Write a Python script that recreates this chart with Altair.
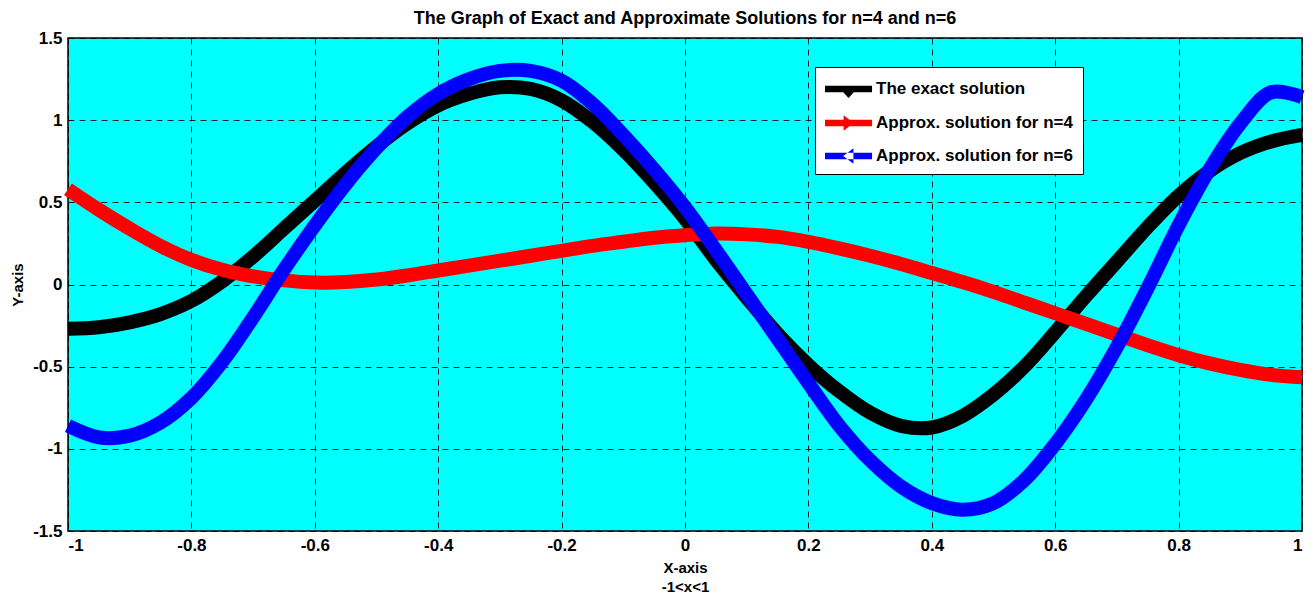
import altair as alt
import pandas as pd

# ---------------- data ----------------
x_vals = [-1.00, -0.95, -0.90, -0.85, -0.80, -0.75, -0.70, -0.65, -0.60, -0.55,
          -0.50, -0.45, -0.40, -0.35, -0.30, -0.25, -0.20, -0.15, -0.10, -0.05,
          0.00, 0.05, 0.10, 0.15, 0.20, 0.25, 0.30, 0.35, 0.40, 0.45,
          0.50, 0.55, 0.60, 0.65, 0.70, 0.75, 0.80, 0.85, 0.90, 0.95, 1.00]

exact = [-0.27, -0.26, -0.23, -0.18, -0.10, 0.02, 0.17, 0.34, 0.51, 0.68,
         0.84, 0.98, 1.09, 1.16, 1.20, 1.19, 1.12, 0.99, 0.82, 0.62,
         0.40, 0.15, -0.08, -0.30, -0.49, -0.65, -0.78, -0.86, -0.87, -0.80,
         -0.67, -0.50, -0.29, -0.07, 0.14, 0.35, 0.54, 0.69, 0.80, 0.87, 0.91]

approx4 = [0.58, 0.455, 0.34, 0.235, 0.15, 0.09, 0.05, 0.025, 0.012, 0.015,
           0.03, 0.055, 0.085, 0.115, 0.145, 0.175, 0.205, 0.235, 0.26, 0.285,
           0.30, 0.31, 0.305, 0.29, 0.26, 0.22, 0.175, 0.125, 0.07, 0.015,
           -0.045, -0.11, -0.175, -0.24, -0.305, -0.37, -0.43, -0.48, -0.52, -0.55, -0.565]

approx6 = [-0.86, -0.93, -0.92, -0.84, -0.69, -0.47, -0.20, 0.09, 0.36, 0.61,
           0.83, 1.02, 1.16, 1.25, 1.30, 1.30, 1.24, 1.10, 0.91, 0.70,
           0.47, 0.21, -0.06, -0.33, -0.60, -0.86, -1.07, -1.23, -1.33, -1.37,
           -1.33, -1.19, -0.97, -0.70, -0.38, -0.02, 0.36, 0.70, 0.98, 1.17, 1.14]

series_names = ["The exact solution", "Approx. solution for n=4", "Approx. solution for n=6"]
series_colors = ["#000000", "#FF0000", "#0000FF"]

x_ticks = [-1, -0.8, -0.6, -0.4, -0.2, 0, 0.2, 0.4, 0.6, 0.8, 1]
y_ticks = [-1.5, -1, -0.5, 0, 0.5, 1, 1.5]

title_text = "The Graph of Exact and Approximate Solutions for n=4 and n=6"

# legend glyphs: thick line with a triangle marker (down / right / left)
bar = "M-1,-0.28L2.92,-0.28L2.92,0.28L-1,0.28Z "
legend_paths = [
    bar + "M0.46,0.2L1.46,0.2L0.96,0.75Z",
    bar + "M0.55,-0.65L1.4,0L0.55,0.65Z",
    bar + "M1.37,-0.65L0.52,0L1.37,0.65Z",
]

rows = []
for name, ys in zip(series_names, [exact, approx4, approx6]):
    for xv, yv in zip(x_vals, ys):
        rows.append({"series": name, "x": xv, "y": yv})
df = pd.DataFrame(rows)

FONT = "Liberation Sans"

x_enc = alt.X("x:Q",
              scale=alt.Scale(domain=[-1, 1], nice=False, zero=False),
              axis=alt.Axis(values=x_ticks, labelExpr="datum.value + ''",
                            title=["X-axis", "-1<x<1"], titleFontSize=15,
                            titleLineHeight=19, titlePadding=7,
                            labelPadding=6))
y_enc = alt.Y("y:Q",
              scale=alt.Scale(domain=[-1.5, 1.5], nice=False, zero=False),
              axis=alt.Axis(values=y_ticks, labelExpr="datum.value + ''",
                            title="Y-axis", titleFontSize=15, titlePadding=7,
                            labelPadding=6))

legend_props = dict(
    orient="none", legendX=747, legendY=29, title=None,
    padding=10, fillColor="white", strokeColor="black", cornerRadius=0,
    symbolSize=576, symbolOpacity=1, symbolStrokeWidth=0,
    labelFont=FONT, labelFontSize=17, labelFontWeight="bold",
    labelOffset=27, labelLimit=400, rowPadding=13, labelColor="black",
)

base = alt.Chart(df)

points = base.mark_point(filled=True, opacity=0, size=10).encode(
    x=x_enc,
    y=y_enc,
    fill=alt.Fill("series:N",
                  scale=alt.Scale(domain=series_names, range=series_colors),
                  legend=alt.Legend(**legend_props)),
    shape=alt.Shape("series:N",
                    scale=alt.Scale(domain=series_names, range=legend_paths),
                    legend=alt.Legend(**legend_props)),
)

lines = base.mark_line(strokeWidth=14, interpolate="catmull-rom", strokeCap="butt",
                       strokeJoin="round").encode(
    x="x:Q",
    y="y:Q",
    stroke=alt.Stroke("series:N",
                      scale=alt.Scale(domain=series_names, range=series_colors),
                      legend=alt.Legend(**legend_props)),
)

chart = alt.layer(points, lines).properties(
    width=1234,
    height=493,
    autosize=alt.AutoSizeParams(type="none"),
    padding={"left": 60, "top": 30, "right": 5, "bottom": 62},
    background="white",
    title=alt.TitleParams(title_text, font=FONT, fontSize=18, fontWeight="bold",
                          anchor="middle", frame="group", offset=1, color="black"),
).configure_view(
    fill="#00FFFF", stroke="black", strokeWidth=1.5
).configure_axis(
    grid=True, gridColor="black", gridDash=[6, 5], gridWidth=1, gridOpacity=0.85,
    ticks=False, domain=False,
    labelFont=FONT, labelFontSize=17, labelFontWeight="bold", labelColor="black",
    titleFont=FONT, titleFontWeight="bold", titleColor="black",
).configure_legend(
    strokeWidth=1
)

chart.save("out.html", embed_options={"renderer": "svg", "actions": False})
